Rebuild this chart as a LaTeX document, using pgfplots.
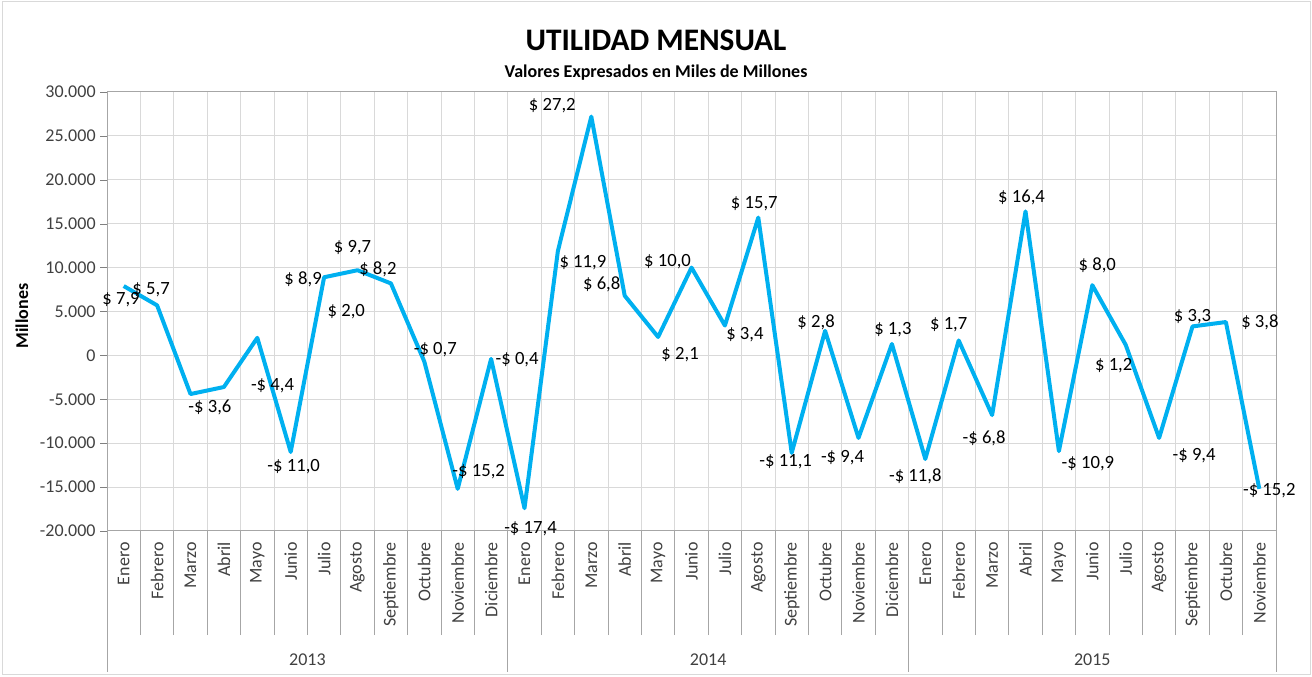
\documentclass[border=0pt]{standalone}
\usepackage{fontspec}
\setmainfont{Carlito}
\usepackage{pgfplots}
\pgfplotsset{compat=1.18}
\usepackage{pgfplotstable}

\definecolor{linec}{HTML}{00B0F0}
\definecolor{gridc}{HTML}{D9D9D9}
\definecolor{axc}{HTML}{A6A6A6}
\definecolor{txtc}{HTML}{404040}

\pgfplotstableread{
x y
0 7900
1 5700
2 -4400
3 -3600
4 2000
5 -11000
6 8900
7 9700
8 8200
9 -700
10 -15200
11 -400
12 -17400
13 11900
14 27200
15 6800
16 2100
17 10000
18 3400
19 15700
20 -11100
21 2800
22 -9400
23 1300
24 -11800
25 1700
26 -6800
27 16400
28 -10900
29 8000
30 1200
31 -9400
32 3300
33 3800
34 -15200
}\datatable

% label: {x,y}{xshift}{yshift}{text}
\newcommand\lbl[4]{\addplot[draw=none, mark=none, forget plot, point meta=y,
  nodes near coords={#4},
  every node near coord/.append style={anchor=center, inner sep=0pt, text=black,
     font=\fontsize{14}{16}\selectfont, xshift=#2pt, yshift=#3pt}]
  coordinates {(#1)};}

\begin{document}
\begin{tikzpicture}
\useasboundingbox (0,0) rectangle (984pt,507.75pt);
\draw[gridc, line width=0.75pt] (1.5pt,1.5pt) rectangle (982.5pt,506.25pt);
\node[font=\bfseries\fontsize{23.5}{28}\selectfont] at (492pt,477.75pt) {UTILIDAD MENSUAL};
\node[font=\bfseries\fontsize{13.5}{16}\selectfont] at (492pt,453pt) {Valores Expresados en Miles de Millones};
\node[font=\bfseries\fontsize{13.5}{16}\selectfont, rotate=90] at (16.5pt,270.75pt) {Millones};
\begin{axis}[
  at={(80.25pt,109.5pt)}, anchor=south west,
  scale only axis, width=876.75pt, height=329.25pt,
  xmin=-0.5, xmax=34.5, ymin=-20000, ymax=30000,
  ytick distance=5000,
  scaled y ticks=false,
  xtick={0,...,34},
  xticklabels={Enero,Febrero,Marzo,Abril,Mayo,Junio,Julio,Agosto,Septiembre,Octubre,Noviembre,Diciembre,
               Enero,Febrero,Marzo,Abril,Mayo,Junio,Julio,Agosto,Septiembre,Octubre,Noviembre,Diciembre,
               Enero,Febrero,Marzo,Abril,Mayo,Junio,Julio,Agosto,Septiembre,Octubre,Noviembre},
  xticklabel style={rotate=90, anchor=east, font=\fontsize{13.5}{16}\selectfont, text=txtc},
  yticklabel style={font=\fontsize{13.5}{16}\selectfont, text=txtc,
     /pgf/number format/fixed, /pgf/number format/1000 sep={.}, /pgf/number format/assume math mode=true},
  minor xtick={-0.5,0.5,...,34.5},
  xminorgrids, ymajorgrids,
  grid style={gridc, line width=0.75pt},
  minor grid style={gridc, line width=0.75pt},
  xtick pos=lower, ytick pos=left,
  tick align=outside,
  major x tick style={draw=none},
  minor x tick style={axc, line width=0.75pt},
  major tick length=5pt,
  minor tick length=78pt,
  axis line style={axc, line width=0.75pt},
  clip=false,
]
\addplot[linec, line width=3pt, line join=round, mark=none] table[x=x, y=y] {\datatable};
\lbl{0,7900}{-2}{-10.5}{\$ 7,9}
\lbl{1,5700}{-4.5}{12}{\$ 5,7}
\lbl{2,-4400}{61.5}{6}{-\$ 4,4}
\lbl{3,-3600}{-10.5}{-15}{-\$ 3,6}
\lbl{4,2000}{66.75}{19.5}{\$ 2,0}
\lbl{5,-11000}{2.25}{-11.25}{-\$ 11,0}
\lbl{6,8900}{-15.75}{-1.5}{\$ 8,9}
\lbl{7,9700}{-3.75}{17.25}{\$ 9,7}
\lbl{8,8200}{-9.75}{10.5}{\$ 8,2}
\lbl{9,-700}{8.25}{9}{-\$ 0,7}
\lbl{10,-15200}{15.75}{12.75}{-\$ 15,2}
\lbl{11,-400}{19.5}{-0.75}{-\$ 0,4}
\lbl{12,-17400}{4.5}{-15.75}{-\$ 17,4}
\lbl{13,11900}{18.75}{-9}{\$ 11,9}
\lbl{14,27200}{-29.25}{8.25}{\$ 27,2}
\lbl{15,6800}{-17.25}{8.25}{\$ 6,8}
\lbl{16,2100}{16.5}{-13.5}{\$ 2,1}
\lbl{17,10000}{-18}{4.5}{\$ 10,0}
\lbl{18,3400}{15}{-6.75}{\$ 3,4}
\lbl{19,15700}{-3}{10.5}{\$ 15,7}
\lbl{20,-11100}{-4.5}{-6.75}{-\$ 11,1}
\lbl{21,2800}{-6.75}{6}{\$ 2,8}
\lbl{22,-9400}{-12}{-15}{-\$ 9,4}
\lbl{23,1300}{0.75}{10.5}{\$ 1,3}
\lbl{24,-11800}{-7.5}{-12.75}{-\$ 11,8}
\lbl{25,1700}{-7.5}{12}{\$ 1,7}
\lbl{26,-6800}{-6}{-17.25}{-\$ 6,8}
\lbl{27,16400}{-3}{10.5}{\$ 16,4}
\lbl{28,-10900}{21.75}{-9.75}{-\$ 10,9}
\lbl{29,8000}{3.75}{15}{\$ 8,0}
\lbl{30,1200}{-9}{-15.75}{\$ 1,2}
\lbl{31,-9400}{26.25}{-13.5}{-\$ 9,4}
\lbl{32,3300}{0}{7.5}{\$ 3,3}
\lbl{33,3800}{25.5}{0}{\$ 3,8}
\lbl{34,-15200}{7.5}{-1.5}{-\$ 15,2}
\pgfplotsinvokeforeach{-0.5,11.5,23.5,34.5}{
  \draw[axc, line width=0.75pt] (axis cs:#1,-20000) -- ([yshift=-105.75pt]axis cs:#1,-20000);
}
\node[font=\fontsize{13.5}{16}\selectfont, text=txtc] at ([yshift=-96.75pt]axis cs:5.5,-20000) {2013};
\node[font=\fontsize{13.5}{16}\selectfont, text=txtc] at ([yshift=-96.75pt]axis cs:17.5,-20000) {2014};
\node[font=\fontsize{13.5}{16}\selectfont, text=txtc] at ([yshift=-96.75pt]axis cs:29,-20000) {2015};
\end{axis}
\end{tikzpicture}
\end{document}
